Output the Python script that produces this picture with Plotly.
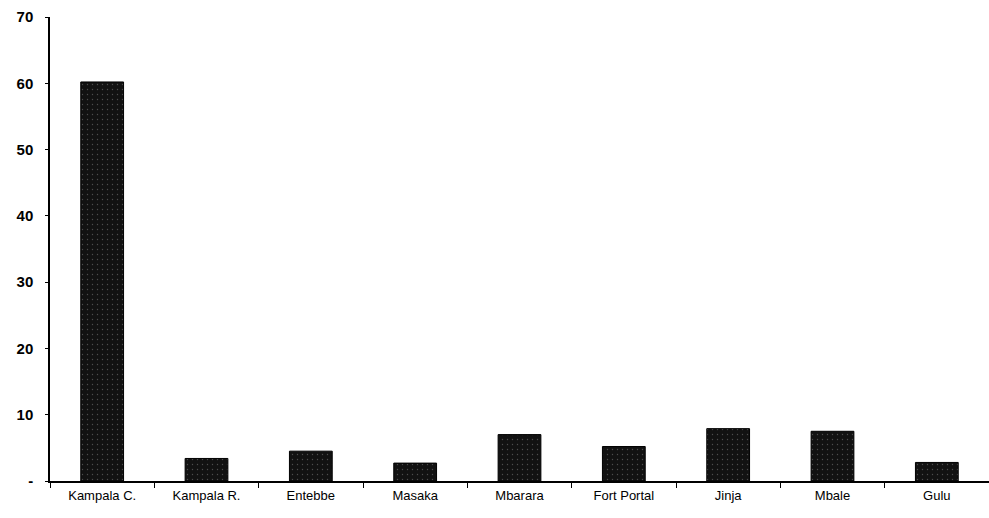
import plotly.graph_objects as go

categories = ["Kampala C.", "Kampala R.", "Entebbe", "Masaka", "Mbarara",
              "Fort Portal", "Jinja", "Mbale", "Gulu"]
values = [60.2, 3.4, 4.5, 2.7, 7.0, 5.2, 7.9, 7.5, 2.8]
y_tickvals = [0, 10, 20, 30, 40, 50, 60, 70]
y_ticktext = ["-", "10", "20", "30", "40", "50", "60", "70"]

fig = go.Figure(go.Bar(
    x=categories, y=values,
    width=0.41,
    marker=dict(color="#121212", line=dict(color="#000", width=1),
                pattern=dict(shape=".", fgcolor="#8a8a8a", size=5, solidity=0.06)),
))

fig.update_layout(
    width=989, height=518,
    margin=dict(l=50, r=0, t=17, b=37),
    paper_bgcolor="white", plot_bgcolor="white",
    font=dict(family="Liberation Sans, Arial", color="black"),
    showlegend=False,
)
fig.update_xaxes(
    showline=True, linecolor="black", linewidth=1.5,
    ticks="outside", tickson="boundaries", ticklen=5, tickcolor="black",
    tickfont=dict(size=13), showgrid=False, ticklabelstandoff=2,
)
fig.update_yaxes(
    range=[0, 70], tickvals=y_tickvals, ticktext=y_ticktext,
    showline=True, linecolor="black", linewidth=1.5,
    ticks="outside", ticklen=3, tickcolor="black",
    tickfont=dict(size=15, weight="bold"), showgrid=False, zeroline=False,
    ticklabelstandoff=9,
)

fig.write_html("out.html")
